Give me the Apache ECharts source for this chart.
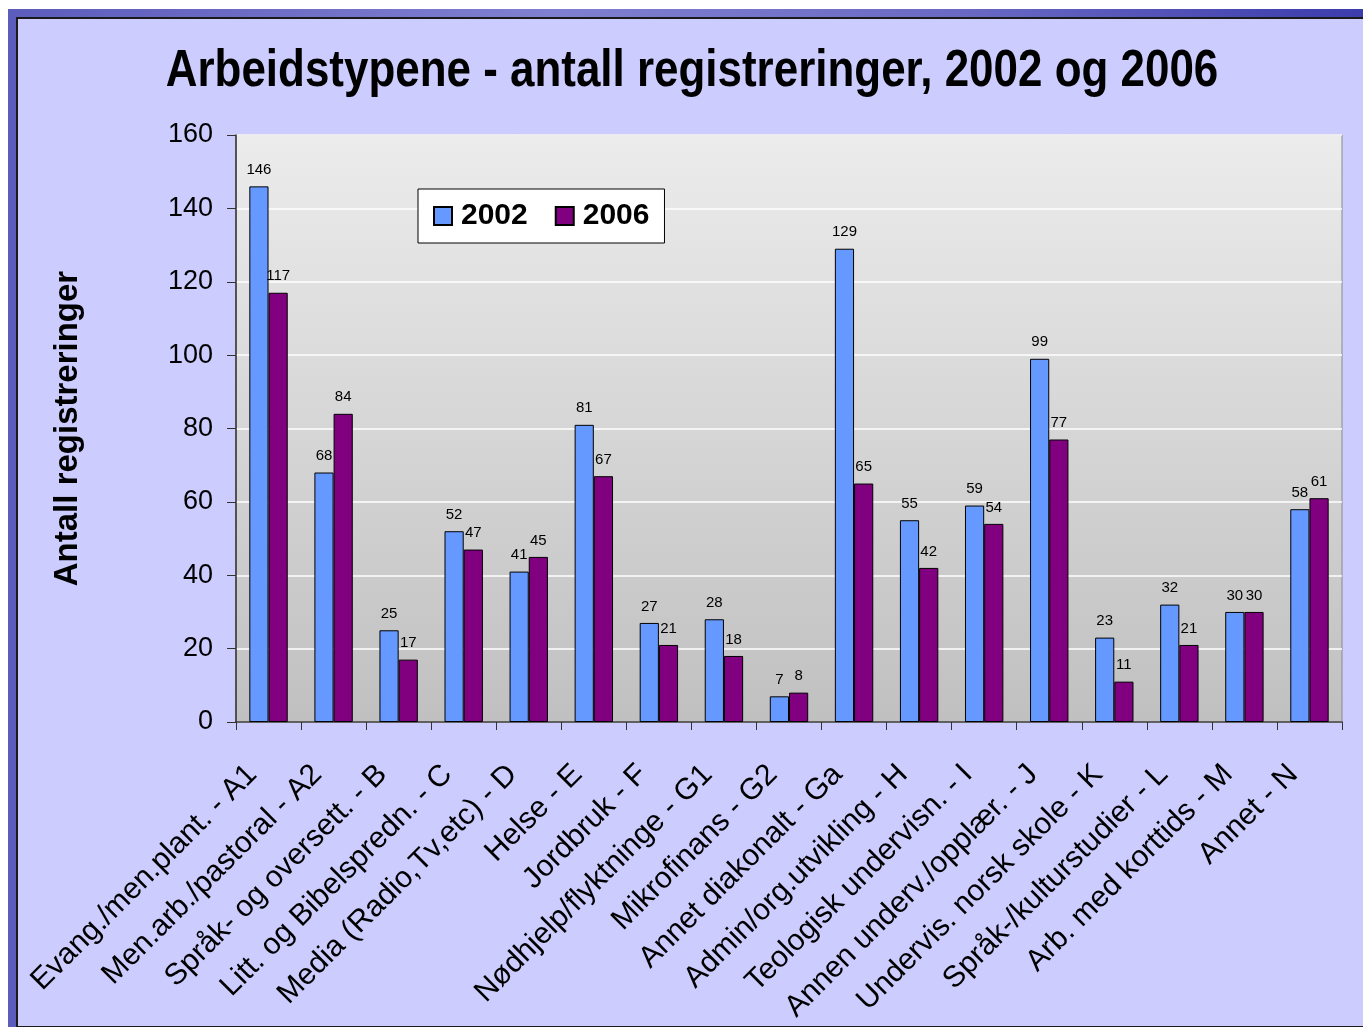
<!DOCTYPE html>
<html>
<head>
<meta charset="utf-8" />
<title>Arbeidstypene</title>
<style>
  html, body { margin: 0; padding: 0; background: #ffffff; }
  #frame {
    position: absolute; left: 8px; top: 9px; right: 0; bottom: 0;
    background: linear-gradient(to right, #5c5cbc, #8080d0 40%, #6a6ac4 70%, #3c3cac);
  }
  #sheet {
    position: absolute; left: 16px; top: 17px; width: 1347px; height: 1007px;
    background: #ccccff;
    border-left: 2px solid #1a1a1a; border-top: 2px solid #1a1a1a; border-bottom: 2px solid #1a1a1a;
  }
  #main { position: absolute; left: 0; top: 0; width: 1363px; height: 1027px; }
</style>
</head>
<body>
<div id="frame"></div>
<div id="sheet"></div>
<div id="main"></div>
<script src="https://cdn.jsdelivr.net/npm/echarts@6/dist/echarts.min.js"></script>
<script>
  var categories = [
    "Evang./men.plant. - A1", "Men.arb./pastoral - A2", "Språk- og oversett. - B",
    "Litt. og Bibelspredn. - C", "Media (Radio,Tv,etc) - D", "Helse - E", "Jordbruk - F",
    "Nødhjelp/flyktninge - G1", "Mikrofinans - G2", "Annet diakonalt - Ga",
    "Admin/org.utvikling - H", "Teologisk undervisn. - I", "Annen underv./opplær. - J",
    "Undervis. norsk skole - K", "Språk-/kulturstudier - L", "Arb. med korttids - M",
    "Annet - N"
  ];
  var values2002 = [146, 68, 25, 52, 41, 81, 27, 28, 7, 129, 55, 59, 99, 23, 32, 30, 58];
  var values2006 = [117, 84, 17, 47, 45, 67, 21, 18, 8, 65, 42, 54, 77, 11, 21, 30, 61];
  var yTicks = [0, 20, 40, 60, 80, 100, 120, 140, 160];
  var titleText = "Arbeidstypene - antall registreringer, 2002 og 2006";

  var font = "'Liberation Sans', Arial, sans-serif";
  var chart = echarts.init(document.getElementById("main"));

  var labelStyle = {
    show: true, position: "top", distance: 9,
    fontSize: 15, color: "#000", fontFamily: font
  };

  chart.setOption({
    backgroundColor: "transparent",
    animation: false,
    graphic: [{
      // narrow bold title: Arial-like face squeezed horizontally
      type: "text", x: 692, y: 72, scaleX: 0.845,
      style: {
        text: titleText, fill: "#000",
        font: "bold 52px 'Liberation Sans', Arial, sans-serif",
        textAlign: "center", textVerticalAlign: "middle"
      }
    }],
    legend: {
      left: 418, top: 189,
      padding: [12, 15, 12, 15],
      backgroundColor: "#ffffff",
      borderColor: "#000", borderWidth: 1,
      itemWidth: 18, itemHeight: 18, itemGap: 27,
      icon: "rect",
      textStyle: { fontFamily: font, fontWeight: "bold", fontSize: 30, color: "#000", padding: [0, 0, 0, 4] },
      data: ["2002", "2006"]
    },
    grid: {
      left: 236, top: 135, right: 21, bottom: 305,
      show: true,
      borderColor: "#8a8a8a", borderWidth: 1,
      backgroundColor: {
        type: "linear", x: 0, y: 0, x2: 0, y2: 1,
        colorStops: [{ offset: 0, color: "#ececec" }, { offset: 1, color: "#c0c0c0" }]
      }
    },
    xAxis: {
      type: "category",
      data: categories,
      axisLine: { lineStyle: { color: "#333", width: 1.5 } },
      axisTick: { show: true, length: 8, lineStyle: { color: "#333" } },
      axisLabel: {
        rotate: 45, margin: 64, interval: 0,
        verticalAlign: "bottom", padding: [0, 0, 8, 0],
        fontFamily: font, fontSize: 30, color: "#000"
      }
    },
    yAxis: {
      type: "value",
      min: yTicks[0], max: yTicks[yTicks.length - 1], interval: 20,
      name: "Antall registreringer",
      nameLocation: "middle", nameGap: 152,
      nameTextStyle: { fontFamily: font, fontWeight: "bold", fontSize: 33, color: "#000" },
      axisLine: { show: true, lineStyle: { color: "#333", width: 1.5 } },
      axisTick: { show: true, length: 9, lineStyle: { color: "#333" } },
      axisLabel: { margin: 23, fontFamily: font, fontSize: 27, color: "#000" },
      splitLine: { lineStyle: { color: "#ffffff", width: 1.5 } }
    },
    series: [
      {
        name: "2002", type: "bar", data: values2002,
        barGap: "0%", barCategoryGap: "41%",
        itemStyle: { color: "#6699ff", borderColor: "#000", borderWidth: 1 },
        label: labelStyle
      },
      {
        name: "2006", type: "bar", data: values2006,
        itemStyle: { color: "#800080", borderColor: "#000", borderWidth: 1 },
        label: labelStyle
      }
    ]
  });
</script>
</body>
</html>
